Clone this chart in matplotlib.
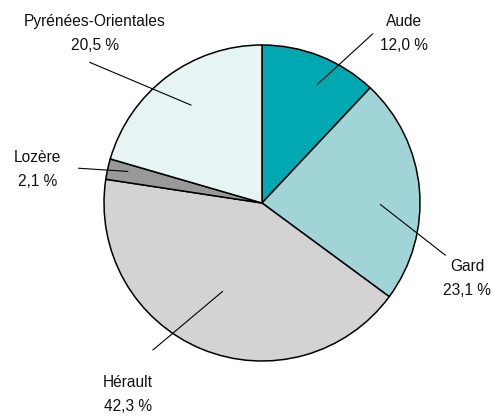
import matplotlib
matplotlib.use("Agg")
import matplotlib.pyplot as plt

plt.rcParams['font.family'] = ['Liberation Sans', 'DejaVu Sans']

# parts par département (%)
departements = ["Aude", "Gard", "Hérault", "Lozère", "Pyrénées-Orientales"]
parts = [12.0, 23.1, 42.3, 2.1, 20.5]
pct_labels = ["12,0 %", "23,1 %", "42,3 %", "2,1 %", "20,5 %"]
couleurs = ["#00a9b1", "#a0d4d7", "#d3d3d3", "#999999", "#e7f4f4"]

# placement des étiquettes (texte, trait de rappel)
text_pos = [(0.90, 1.075), (1.30, -0.48), (-0.85, -1.21), (-1.42, 0.21), (-1.06, 1.07)]
line_pts = [((0.35, 0.75), (0.70, 1.07)),
            ((0.75, -0.01), (1.16, -0.33)),
            ((-0.25, -0.56), (-0.69, -0.93)),
            ((-0.85, 0.20), (-1.16, 0.22)),
            ((-0.45, 0.62), (-1.09, 0.89))]

fig = plt.figure(figsize=(4.93, 4.16), dpi=100)
ax = fig.add_axes([0, 0, 1, 1])
ax.pie(parts, colors=couleurs, startangle=90, counterclock=False, radius=1,
       wedgeprops=dict(edgecolor="black", linewidth=1.1))

for nom, pct, (tx, ty), (p1, p2) in zip(departements, pct_labels, text_pos, line_pts):
    ax.plot([p1[0], p2[0]], [p1[1], p2[1]], color="black", lw=0.8)
    ax.text(tx, ty, f"{nom}\n{pct}", ha="center", va="center",
            fontsize=11.2, linespacing=1.75, color="#111111")

ax.set_xlim(-262 / 158, (493 - 262) / 158)
ax.set_ylim(-(416 - 203) / 158, 203 / 158)
ax.set_aspect("auto")
ax.axis("off")

fig.savefig("out.png", dpi=100)
